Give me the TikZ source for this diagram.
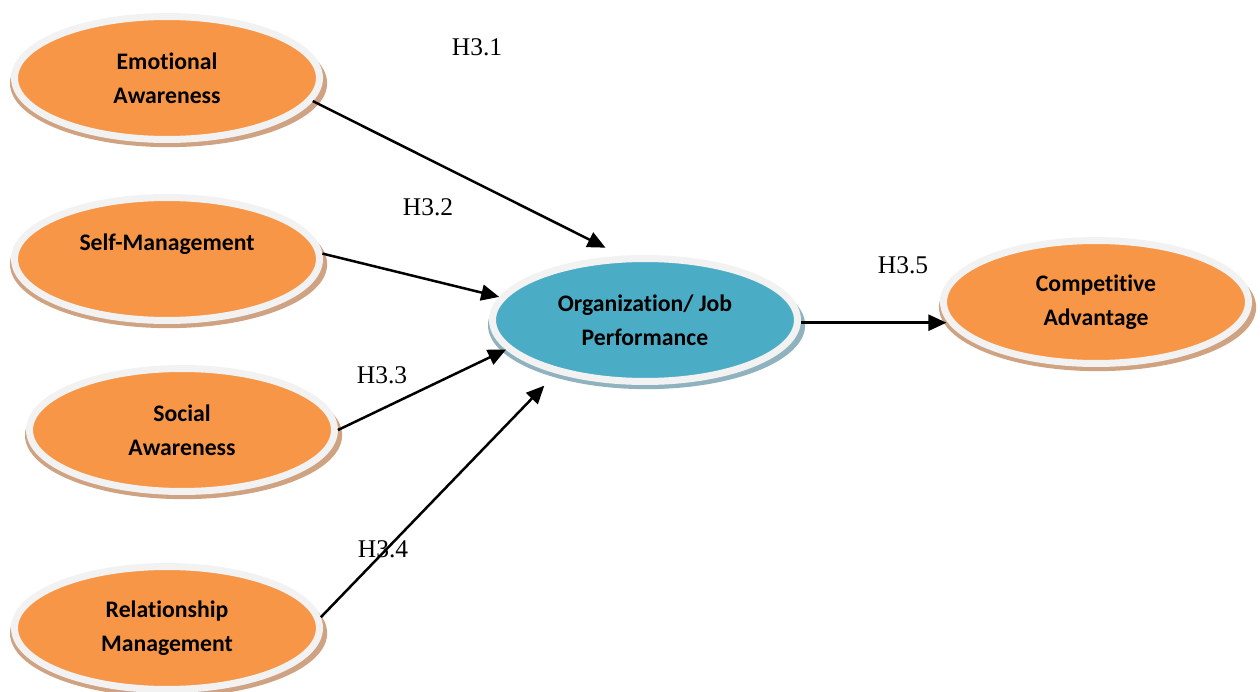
\documentclass[tikz,border=0pt]{standalone}
\usepackage{fontspec}
\setmainfont{Liberation Serif}
\newfontfamily\boxfont[Ligatures=NoCommon]{Carlito}
\usetikzlibrary{shapes.geometric,shadows,arrows.meta}
\definecolor{kreisorange}{HTML}{F79646}
\definecolor{kreisblau}{HTML}{4BACC6}
\definecolor{randgrau}{HTML}{F2F2F2}
\definecolor{schattenbraun}{HTML}{CFA282}
\definecolor{schattenblau}{HTML}{8FB2BF}
\tikzset{
  rimshadow/.style={drop shadow={shadow xshift=0.03cm,shadow yshift=-0.1cm,
      shadow scale=1.04,fill=#1,opacity=1}},
  ellbase/.style={ellipse,draw=randgrau,line width=0.14cm,
    minimum width=6.1cm,minimum height=2.46cm,inner sep=0pt,align=center,
    font=\boxfont\bfseries\fontsize{13.5}{19.3}\selectfont},
  construct/.style={ellbase,fill=kreisorange,rimshadow=schattenbraun},
  mediator/.style={ellbase,fill=kreisblau,rimshadow=schattenblau},
  hypo/.style={inner sep=0pt,font=\fontsize{14.5}{17}\selectfont},
  link/.style={-{Triangle[length=0.36cm,width=0.32cm]},line width=0.05cm}
}
\begin{document}
\begin{tikzpicture}[x=0.02cm,y=-0.02cm]
\useasboundingbox (0,0) rectangle (1260,692);

\node[construct] (emo)   at (167,78)   {Emotional\\Awareness};        % Faktor 1
\node[construct] (selfm) at (167,259)  {Self-Management\\~};          % Faktor 2
\node[construct] (soc)   at (182,430)  {Social\\Awareness};           % Faktor 3
\node[construct] (rel)   at (167,628)  {Relationship\\Management};    % Faktor 4
\node[mediator]  (perf)  at (645,320)  {Organization/ Job\\Performance};
\node[construct] (comp)  at (1096,302) {Competitive\\Advantage};

\node[hypo] (h31) at (477,47)  {H3.1};
\node[hypo] (h32) at (428,207) {H3.2};
\node[hypo] (h33) at (382,375) {H3.3};
\node[hypo] (h34) at (383,549) {H3.4};
\node[hypo] (h35) at (903,265) {H3.5};

\draw[link,shorten >=0.36cm] (emo.-9) -- (perf.110);    % H3.1
\draw[link] (selfm.2) -- (perf.171);                    % H3.2
\draw[link] (soc.0) -- (perf.192);                      % H3.3
\draw[link,shorten >=0.34cm] (rel.4) -- (perf.211);     % H3.4
\draw[link] (perf.-1) -- (perf.-1 -| comp.187);         % H3.5

\end{tikzpicture}
\end{document}
